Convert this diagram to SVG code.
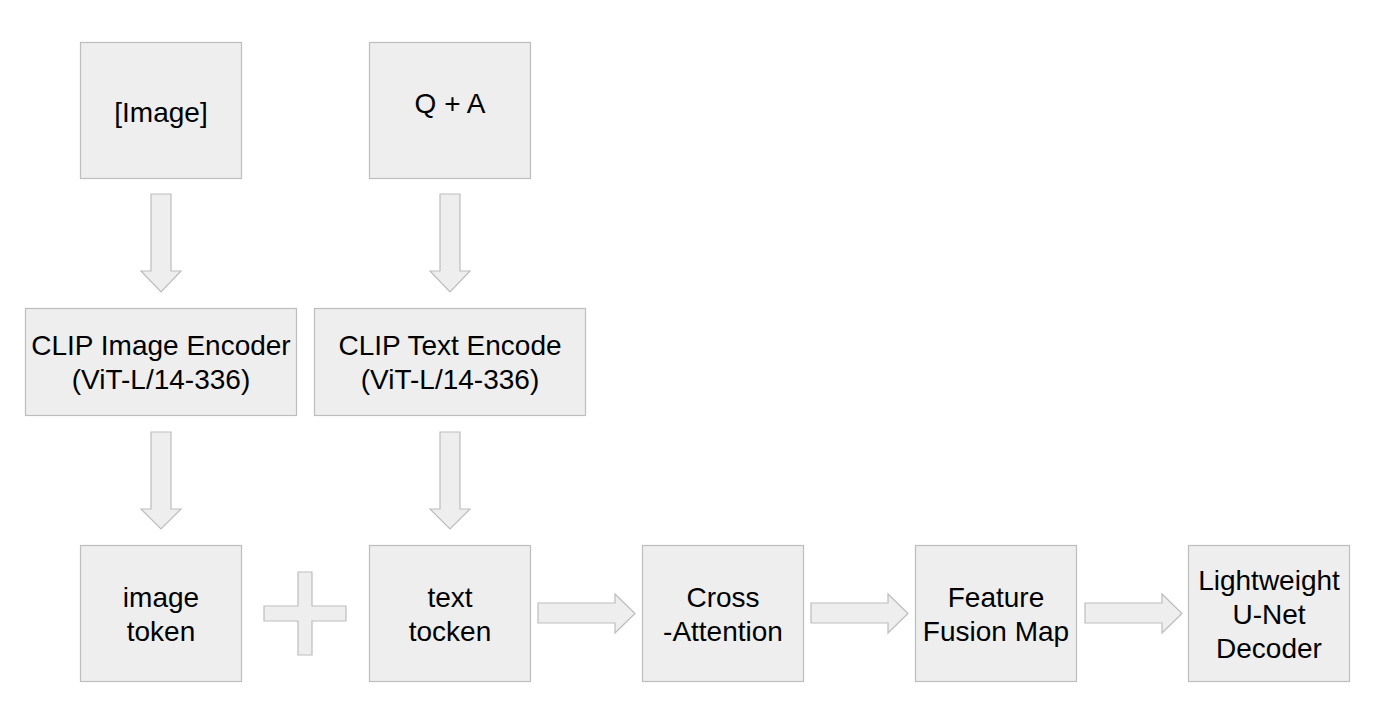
<svg xmlns="http://www.w3.org/2000/svg" width="1385" height="704" viewBox="0 0 1385 704">
<style>
.box{fill:#eeeeee;stroke:#bdbdbd;stroke-width:1.2}
.arr{fill:#eeeeee;stroke:#bdbdbd;stroke-width:1.2;stroke-linejoin:miter}
text{font-family:"Liberation Sans",Arial,sans-serif;font-size:28px;fill:#000;text-anchor:middle}
</style>
<rect width="1385" height="704" fill="#ffffff"/>
<g id="connectors">
<path class="arr" d="M151,194 H171 V271 H181 L161,292 L141,271 H151 Z"/>
<path class="arr" d="M440,194 H460 V271 H470 L450,292 L430,271 H440 Z"/>
<path class="arr" d="M151,432 H171 V509 H181 L161,529 L141,509 H151 Z"/>
<path class="arr" d="M440,432 H460 V509 H470 L450,529 L430,509 H440 Z"/>
<path class="arr" d="M538,603 H615 V594 L635,613.5 L615,633 V623 H538 Z"/>
<path class="arr" d="M811,603 H888 V594 L908,613.5 L888,633 V623 H811 Z"/>
<path class="arr" d="M1085,603 H1162 V594 L1182,613.5 L1162,633 V623 H1085 Z"/>
<path class="arr" d="M298,572 H312 V606 H346 V621 H312 V655 H298 V621 H264 V606 H298 Z"/>
</g>
<g id="image"><rect class="box" x="80.5" y="42.5" width="161" height="136"/><text x="161" y="122">[Image]</text></g>
<g id="qa"><rect class="box" x="369.5" y="42.5" width="161" height="136"/><text x="450" y="113">Q + A</text></g>
<g id="clip-image"><rect class="box" x="25.5" y="308.5" width="271" height="107"/><text x="161" y="355">CLIP Image Encoder</text><text x="161" y="389">(ViT-L/14-336)</text></g>
<g id="clip-text"><rect class="box" x="314.5" y="308.5" width="271" height="107"/><text x="450" y="355">CLIP Text Encode</text><text x="450" y="389">(ViT-L/14-336)</text></g>
<g id="image-token"><rect class="box" x="80.5" y="545.5" width="161" height="136"/><text x="161" y="607">image</text><text x="161" y="641">token</text></g>
<g id="text-token"><rect class="box" x="369.5" y="545.5" width="161" height="136"/><text x="450" y="607">text</text><text x="450" y="641">tocken</text></g>
<g id="cross-attention"><rect class="box" x="642.5" y="545.5" width="161" height="136"/><text x="723" y="607">Cross</text><text x="723" y="641">-Attention</text></g>
<g id="feature-fusion"><rect class="box" x="915.5" y="545.5" width="161" height="136"/><text x="996" y="607">Feature</text><text x="996" y="641">Fusion Map</text></g>
<g id="decoder"><rect class="box" x="1188.5" y="545.5" width="161" height="136"/><text x="1269" y="590">Lightweight</text><text x="1269" y="624">U-Net</text><text x="1269" y="658">Decoder</text></g>
</svg>
